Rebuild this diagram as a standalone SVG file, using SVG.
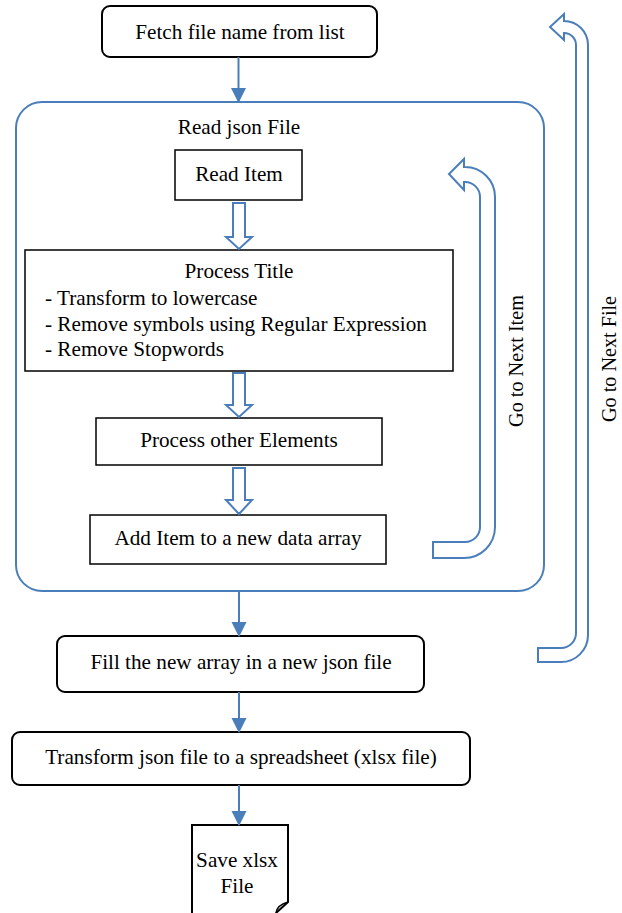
<svg xmlns="http://www.w3.org/2000/svg" width="622" height="913" viewBox="0 0 622 913">
<defs>
<style>
.t{font-family:"Liberation Serif","Times New Roman",serif;font-size:21.2px;fill:#000}
.r{font-size:20.2px}
.c{text-anchor:middle}
.rb{fill:#fff;stroke:#000;stroke-width:2}
.sb{fill:#fff;stroke:#000;stroke-width:1.5}
.bl{fill:none;stroke:#4A7EBB;stroke-width:2}
.ho{fill:#fff;stroke:#4A7EBB;stroke-width:2;stroke-linejoin:miter}
</style>
<marker id="ah" markerUnits="userSpaceOnUse" markerWidth="16" markerHeight="16" refX="14" refY="7.5" orient="auto">
<path d="M0,0 L15,7.5 L0,15 Z" fill="#4A7EBB"/>
</marker>
</defs>
<rect width="622" height="913" fill="#fff"/>

<g id="container">
<rect x="16" y="102" width="528" height="489" rx="26" ry="26" fill="none" stroke="#4A7EBB" stroke-width="2"/>
<text class="t c" x="239" y="134">Read json File</text>
</g>

<g id="fetch">
<rect class="rb" x="102" y="6" width="275" height="51" rx="8"/>
<text class="t c" x="240" y="39">Fetch file name from list</text>
</g>

<g id="readItem">
<rect class="sb" x="175" y="150" width="127" height="50"/>
<text class="t c" x="239" y="181">Read Item</text>
</g>

<g id="processTitle">
<rect class="sb" x="25" y="250" width="428" height="121"/>
<text class="t c" x="239" y="278">Process Title</text>
<text class="t" x="45" y="305">- Transform to lowercase</text>
<text class="t" x="45" y="331">- Remove symbols using Regular Expression</text>
<text class="t" x="45" y="356">- Remove Stopwords</text>
</g>

<g id="processOther">
<rect class="sb" x="96" y="418" width="286" height="47"/>
<text class="t c" x="239" y="447">Process other Elements</text>
</g>

<g id="addItem">
<rect class="sb" x="90" y="515" width="296" height="49"/>
<text class="t c" x="238" y="545">Add Item to a new data array</text>
</g>

<g id="fill">
<rect class="rb" x="57" y="636" width="367" height="56" rx="8"/>
<text class="t c" x="241" y="669">Fill the new array in a new json file</text>
</g>

<g id="transform">
<rect class="rb" x="12" y="732" width="458" height="53" rx="8"/>
<text class="t c" x="241" y="764">Transform json file to a spreadsheet (xlsx file)</text>
</g>

<g id="save">
<path d="M192,913 V825 H288 V902 L276,913" fill="#fff" stroke="#000" stroke-width="2"/>
<path d="M276,913 Q277,905 288,902" fill="none" stroke="#000" stroke-width="1.5"/>
<text class="t c" x="237" y="867">Save xlsx</text>
<text class="t c" x="237" y="893">File</text>
</g>

<g id="connectors">
<line class="bl" x1="238.5" y1="57" x2="238.5" y2="102" marker-end="url(#ah)"/>
<line class="bl" x1="239" y1="591" x2="239" y2="636" marker-end="url(#ah)"/>
<line class="bl" x1="239" y1="692" x2="239" y2="732" marker-end="url(#ah)"/>
<line class="bl" x1="239" y1="785" x2="239" y2="825" marker-end="url(#ah)"/>
<path class="ho" d="M233,203 H245 V237 H252 L239,249 L226,237 H233 Z"/>
<path class="ho" d="M233,373 H245 V405 H252 L239,417 L226,405 H233 Z"/>
<path class="ho" d="M233,468 H245 V500 H252 L239,514 L226,500 H233 Z"/>
<path id="nextItem" class="ho" d="M433,542 H465 A15,15 0 0 0 480,527 V197 A15,15 0 0 0 465,182 H464 V190 L449,174 L464,159 V167 H465 A30,30 0 0 1 495,197 V527 A31,31 0 0 1 464,558 H433 Z"/>
<path id="nextFile" class="ho" d="M538,648 H561 A15,15 0 0 0 576,633 V45 A12,12 0 0 0 564,33 V40 L550,27 L564,14 V21 A24,24 0 0 1 588,45 V635 A27,27 0 0 1 561,662 H538 Z"/>
<text class="t r c" transform="translate(523,361) rotate(-90)">Go to Next Item</text>
<text class="t r c" transform="translate(616,359) rotate(-90)">Go to Next File</text>
</g>
</svg>
